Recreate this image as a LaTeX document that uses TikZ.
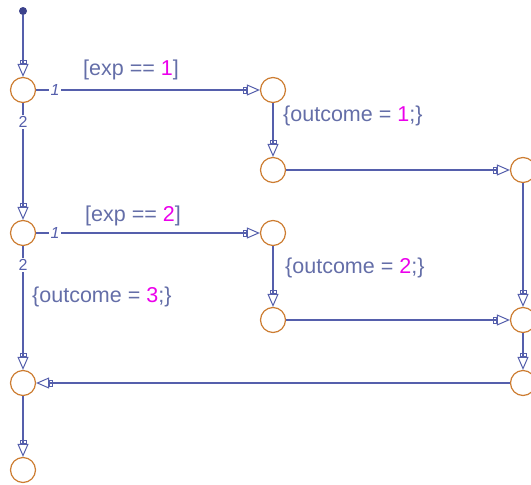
\documentclass[tikz,border=0pt]{standalone}
\usepackage{fontspec}
\setmainfont{Liberation Sans}
\usetikzlibrary{arrows.meta}
\definecolor{lineblue}{RGB}{85,95,172}
\definecolor{dotblue}{RGB}{60,66,140}
\definecolor{txtblue}{RGB}{100,110,168}
\definecolor{mag}{RGB}{235,0,235}
\definecolor{junc}{RGB}{205,125,50}
\tikzset{sfarrow/.tip={Rectangle[open,length=4pt,width=7pt,line width=1pt]Triangle[open,length=13pt,width=11pt,line width=1pt]}}
\begin{document}
\begin{tikzpicture}[x=1pt,y=-1pt,
  junction/.style={circle,draw=junc,line width=1.2pt,minimum size=25pt,inner sep=0pt,fill=white},
  startdot/.style={circle,fill=dotblue,minimum size=8pt,inner sep=0pt},
  tr/.style={draw=lineblue,line width=1.1pt,-sfarrow},
  lbl/.style={text=txtblue,inner sep=0pt,font=\fontsize{21.5}{25}\selectfont},
  prio/.style={text=lineblue,fill=white,inner sep=1.5pt,font=\fontsize{16}{19}\selectfont}
]
\useasboundingbox (0,0) rectangle (531,485);
\clip (0,0) rectangle (531,485);
% nodes
\node[startdot] (S) at (23,11) {};
\node[junction] (J1) at (23,90) {};
\node[junction] (J2) at (23,233) {};
\node[junction] (J3) at (23,383) {};
\node[junction] (J4) at (23,470) {};
\node[junction] (M1) at (273,90) {};
\node[junction] (M2) at (273,170) {};
\node[junction] (M3) at (273,233) {};
\node[junction] (M4) at (273,320) {};
\node[junction] (R1) at (523,170) {};
\node[junction] (R2) at (523,320) {};
\node[junction] (R3) at (523,383) {};
% transitions
\draw[tr] (S) -- (J1);
\draw[tr] (J1) -- (M1);
\draw[tr] (J1) -- (J2);
\draw[tr] (M1) -- (M2);
\draw[tr] (M2) -- (R1);
\draw[tr] (R1) -- (R2);
\draw[tr] (J2) -- (M3);
\draw[tr] (J2) -- (J3);
\draw[tr] (M3) -- (M4);
\draw[tr] (M4) -- (R2);
\draw[tr] (R2) -- (R3);
\draw[tr] (R3) -- (J3);
\draw[tr] (J3) -- (J4);
% priority labels
\node[prio,font=\fontsize{16}{19}\selectfont\itshape] (p11) at (55,90) {1};
\node[prio] (p12) at (23,122) {2};
\node[prio,font=\fontsize{16}{19}\selectfont\itshape] (p21) at (55,233) {1};
\node[prio] (p22) at (23,265) {2};
% labels
\node[lbl] (g1) at (131,70) {[exp == \textcolor{mag}{1}]};
\node[lbl,anchor=west] (a1) at (283,116) {\{outcome = \textcolor{mag}{1};\}};
\node[lbl] (g2) at (133,216) {[exp == \textcolor{mag}{2}]};
\node[lbl,anchor=west] (a2) at (285,268) {\{outcome = \textcolor{mag}{2};\}};
\node[lbl,anchor=west] (a3) at (32,297) {\{outcome = \textcolor{mag}{3};\}};
\end{tikzpicture}
\end{document}
